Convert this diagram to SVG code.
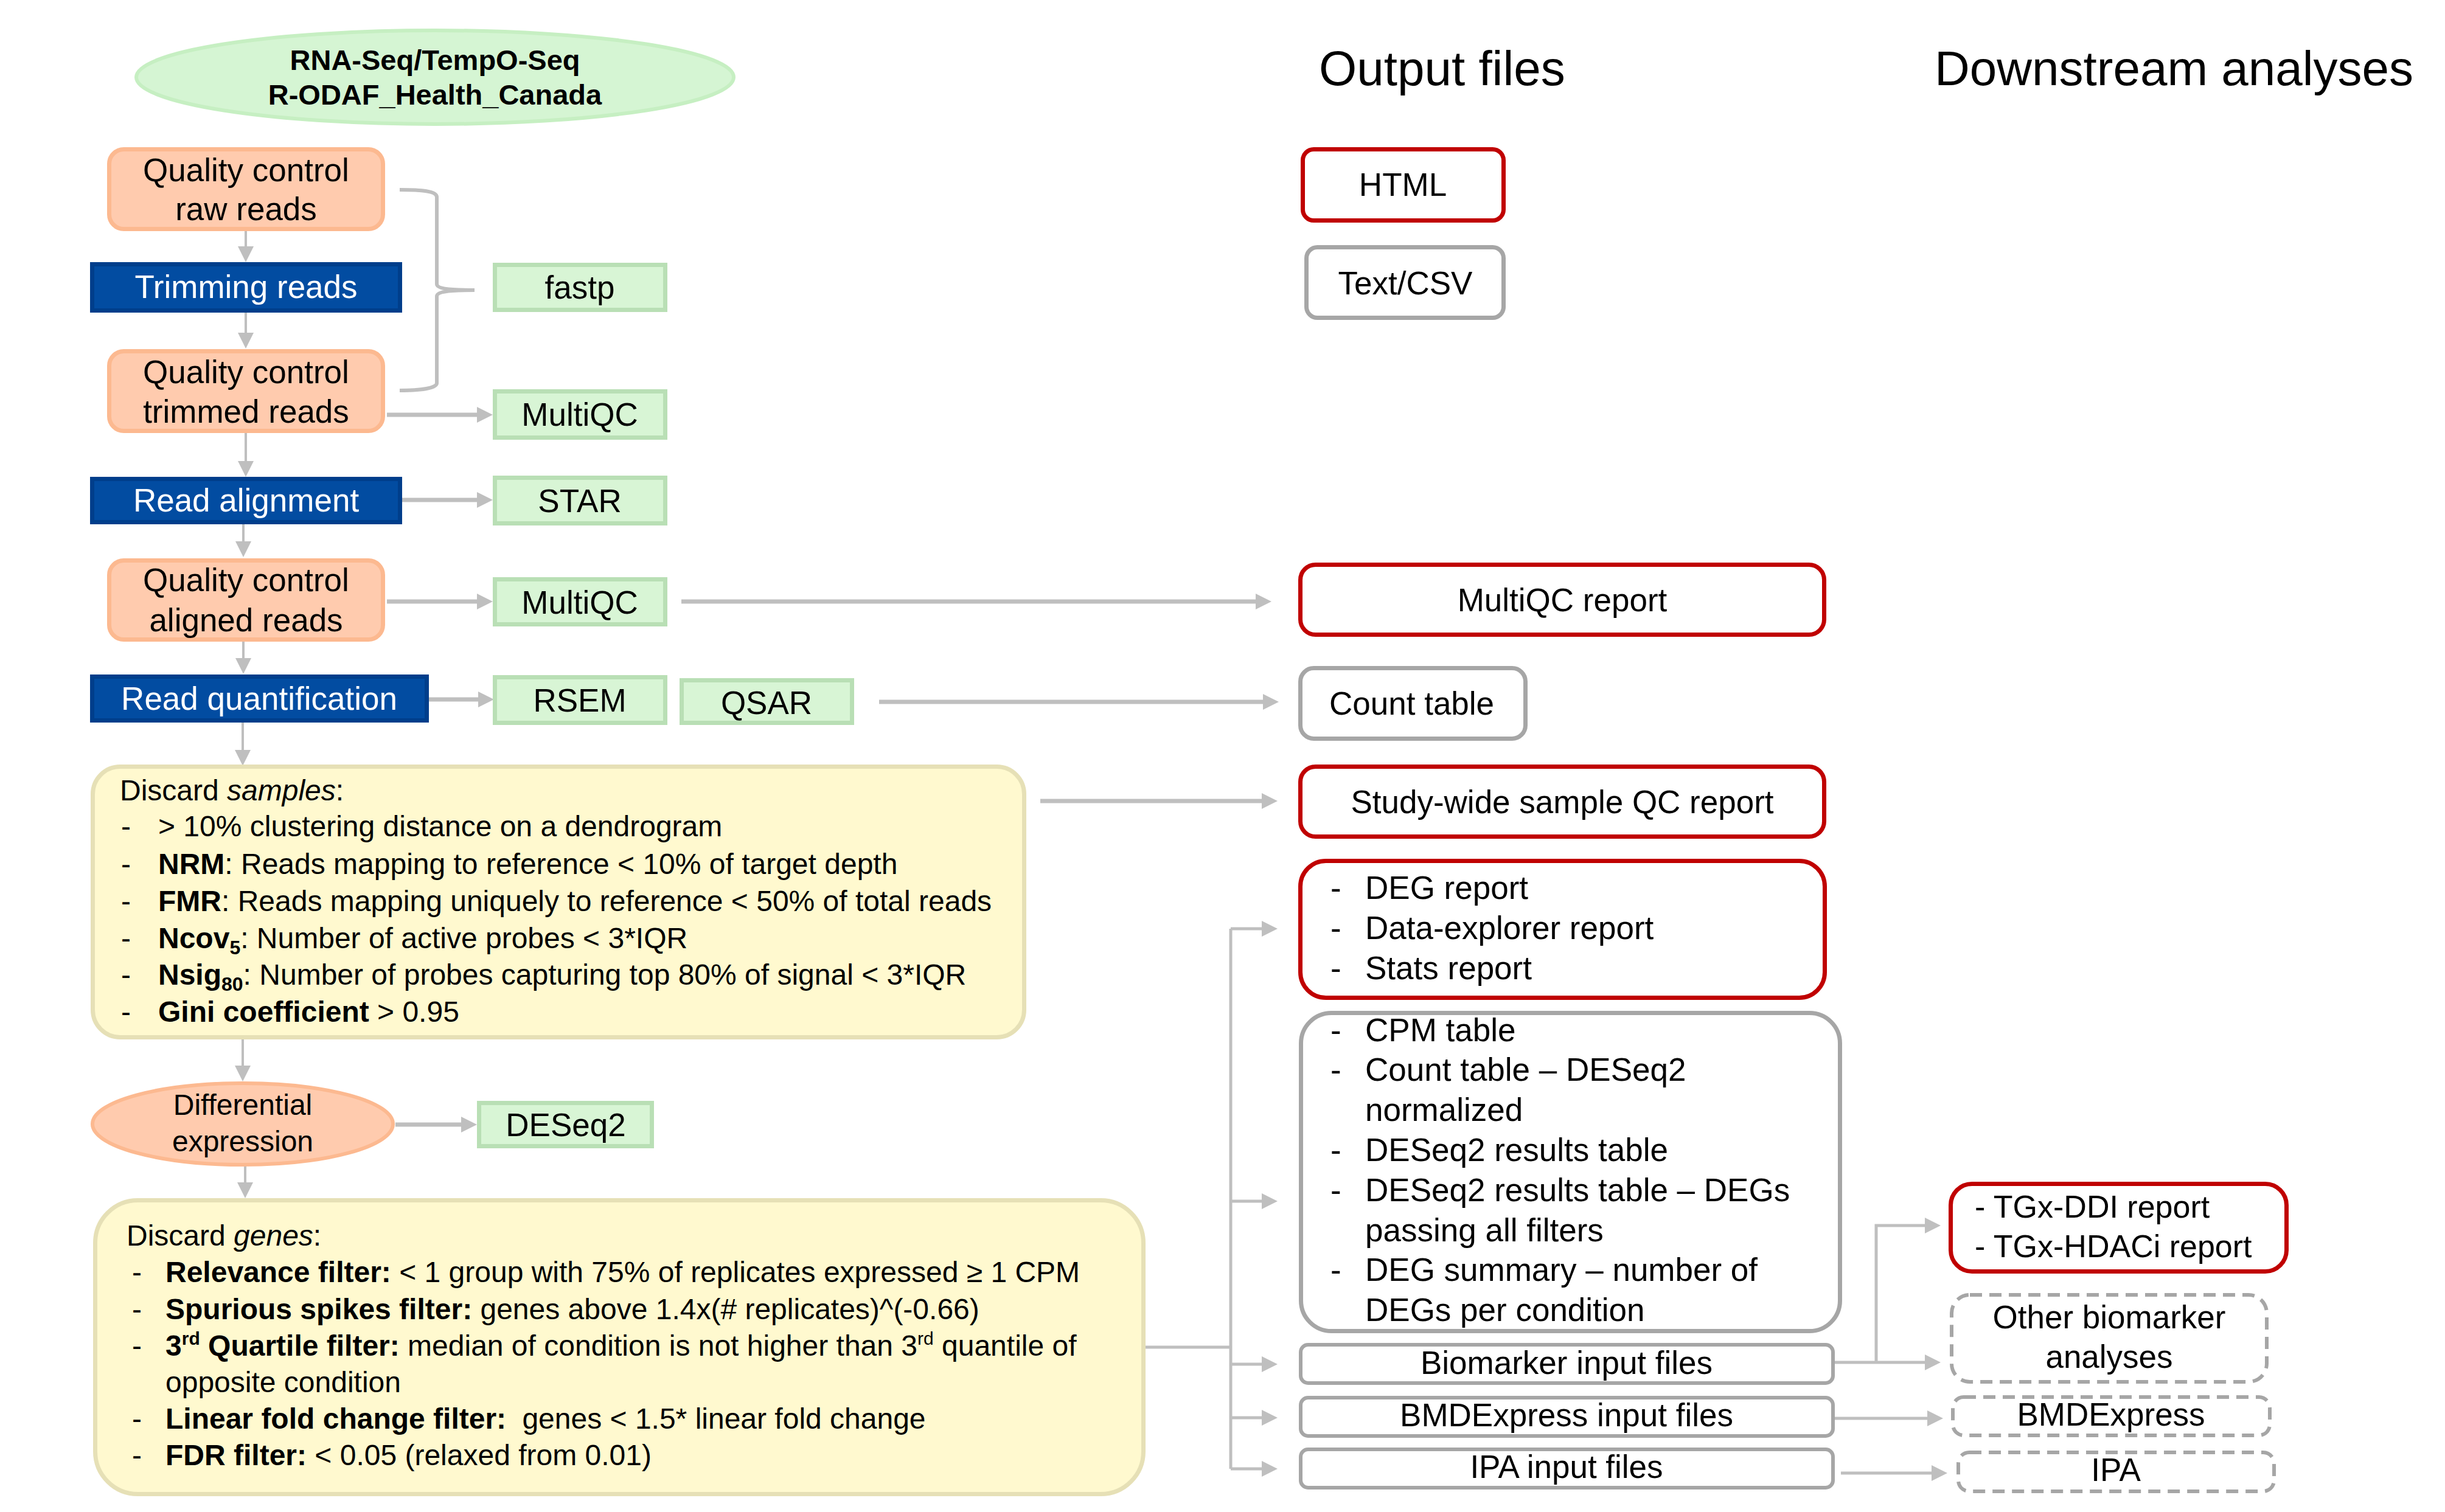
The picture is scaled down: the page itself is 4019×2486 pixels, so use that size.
<svg xmlns="http://www.w3.org/2000/svg" width="4019" height="2486" viewBox="0 0 4019 2486">
<style>
text{font-family:"Liberation Sans",Arial,sans-serif;fill:#000}
.n{font-size:53px}
.s{font-size:48px}
.h{font-size:80px}
.c{text-anchor:middle}
.b{font-weight:bold}
.i{font-style:italic}
.w{fill:#fff}
.peach{fill:#FFCBAE;stroke:#FCB990;stroke-width:7}
.blue{fill:#024CA1;stroke:#003E8B;stroke-width:7}
.green{fill:#D8F5D5;stroke:#B9DFB5;stroke-width:7}
.yellow{fill:#FFF9CF;stroke:#E6E0B6;stroke-width:7}
.red{fill:#fff;stroke:#C00000;stroke-width:7}
.gray{fill:#fff;stroke:#A6A6A6;stroke-width:7}
.dash{fill:#fff;stroke:#A6A6A6;stroke-width:6;stroke-dasharray:20 12}
.ln{fill:none;stroke:#BFBFBF;stroke-width:7}
.thin{stroke-width:4}
.mid{stroke-width:5}
</style>
<defs>
<marker id="ah" viewBox="0 0 26 26" refX="16" refY="13" markerWidth="26" markerHeight="26" markerUnits="userSpaceOnUse" orient="auto"><path d="M0,0L26,13L0,26z" fill="#BFBFBF"/></marker>
</defs>
<rect width="4019" height="2486" fill="#fff"/>

<g id="headers">
<text x="2168" y="140" class="h">Output files</text>
<text x="3180" y="140" class="h">Downstream analyses</text>
</g>

<g id="connectors">
<path class="ln thin" d="M404,380V421" marker-end="url(#ah)"/>
<path class="ln thin" d="M404,514V563" marker-end="url(#ah)"/>
<path class="ln thin" d="M404,712V774" marker-end="url(#ah)"/>
<path class="ln thin" d="M400,862V906" marker-end="url(#ah)"/>
<path class="ln thin" d="M400,1055V1098" marker-end="url(#ah)"/>
<path class="ln thin" d="M399,1188V1249" marker-end="url(#ah)"/>
<path class="ln thin" d="M399,1709V1768" marker-end="url(#ah)"/>
<path class="ln thin" d="M403,1917V1960" marker-end="url(#ah)"/>
<path class="ln" d="M636,682H800" marker-end="url(#ah)"/>
<path class="ln" d="M661,822H800" marker-end="url(#ah)"/>
<path class="ln" d="M636,989H800" marker-end="url(#ah)"/>
<path class="ln" d="M705,1150H802" marker-end="url(#ah)"/>
<path class="ln" d="M1120,989H2080" marker-end="url(#ah)"/>
<path class="ln" d="M1445,1154H2092" marker-end="url(#ah)"/>
<path class="ln" d="M1710,1317H2090" marker-end="url(#ah)"/>
<path class="ln" d="M650,1849H774" marker-end="url(#ah)"/>
<path class="ln thin" style="stroke-width:6" d="M657,312C692,312 718,314 718,324V467C718,474 736,477 780,477C736,477 718,480 718,487V630C718,638 692,642 657,642"/>
<path class="ln mid" d="M1883,2215H2023M2023,1527V2415"/>
<path class="ln mid" d="M2023,1527H2090" marker-end="url(#ah)"/>
<path class="ln mid" d="M2023,1975H2090" marker-end="url(#ah)"/>
<path class="ln mid" d="M2023,2243H2090" marker-end="url(#ah)"/>
<path class="ln mid" d="M2023,2331H2090" marker-end="url(#ah)"/>
<path class="ln mid" d="M2023,2415H2090" marker-end="url(#ah)"/>
<path class="ln mid" d="M3016,2240H3180" marker-end="url(#ah)"/>
<path class="ln mid" d="M3084,2240V2015H3180" marker-end="url(#ah)"/>
<path class="ln mid" d="M3016,2332H3184" marker-end="url(#ah)"/>
<path class="ln mid" d="M3026,2422H3191" marker-end="url(#ah)"/>
</g>

<g id="title">
<ellipse cx="715" cy="127" rx="491" ry="77" fill="#D5F5D3" stroke="#C6EFC2" stroke-width="6"/>
<text x="715" y="115" class="c b" font-size="47">RNA-Seq/TempO-Seq</text>
<text x="715" y="172" class="c b" font-size="47">R-ODAF_Health_Canada</text>
</g>

<g id="qc-raw">
<rect x="179.5" y="245.5" width="450" height="131" rx="24" class="peach"/>
<text x="404.5" y="298" class="n c">Quality control</text>
<text x="404.5" y="362" class="n c">raw reads</text>
</g>
<g id="trimming">
<rect x="151.5" y="434.5" width="506" height="76" class="blue"/>
<text x="404.5" y="490" class="n c w">Trimming reads</text>
</g>
<g id="qc-trimmed">
<rect x="179.5" y="577.5" width="450" height="131" rx="24" class="peach"/>
<text x="404.5" y="630" class="n c">Quality control</text>
<text x="404.5" y="695" class="n c">trimmed reads</text>
</g>
<g id="alignment">
<rect x="151.5" y="787.5" width="506" height="71" class="blue"/>
<text x="404.5" y="841" class="n c w">Read alignment</text>
</g>
<g id="qc-aligned">
<rect x="179.5" y="921.5" width="450" height="130" rx="24" class="peach"/>
<text x="404.5" y="972" class="n c">Quality control</text>
<text x="404.5" y="1038" class="n c">aligned reads</text>
</g>
<g id="quantification">
<rect x="151.5" y="1112.5" width="550" height="72" class="blue"/>
<text x="426" y="1167" class="n c w">Read quantification</text>
</g>

<g id="fastp">
<rect x="813.5" y="435.5" width="280" height="74" class="green"/>
<text x="953" y="491" class="n c">fastp</text>
</g>
<g id="multiqc1">
<rect x="813.5" y="643.5" width="280" height="76" class="green"/>
<text x="953" y="700" class="n c">MultiQC</text>
</g>
<g id="star">
<rect x="813.5" y="785.5" width="280" height="75" class="green"/>
<text x="953" y="842" class="n c">STAR</text>
</g>
<g id="multiqc2">
<rect x="813.5" y="952.5" width="280" height="74" class="green"/>
<text x="953" y="1009" class="n c">MultiQC</text>
</g>
<g id="rsem">
<rect x="813.5" y="1113.5" width="280" height="75" class="green"/>
<text x="953" y="1170" class="n c">RSEM</text>
</g>
<g id="qsar">
<rect x="1120.5" y="1118.5" width="280" height="70" class="green"/>
<text x="1260" y="1174" class="n c">QSAR</text>
</g>

<g id="discard-samples">
<rect x="152.5" y="1260.5" width="1531" height="445" rx="45" class="yellow"/>
<text x="197" y="1316" class="s">Discard <tspan class="i">samples</tspan>:</text>
<text x="199" y="1375" class="s">-</text>
<text x="199" y="1437" class="s">-</text>
<text x="199" y="1498" class="s">-</text>
<text x="199" y="1559" class="s">-</text>
<text x="199" y="1619" class="s">-</text>
<text x="199" y="1680" class="s">-</text>
<text x="260" y="1375" class="s">&gt; 10% clustering distance on a dendrogram</text>
<text x="260" y="1437" class="s"><tspan class="b">NRM</tspan>: Reads mapping to reference &lt; 10% of target depth</text>
<text x="260" y="1498" class="s"><tspan class="b">FMR</tspan>: Reads mapping uniquely to reference &lt; 50% of total reads</text>
<text x="260" y="1559" class="s"><tspan class="b">Ncov</tspan><tspan class="b" dy="10" font-size="32">5</tspan><tspan dy="-10">: Number of active probes &lt; 3*IQR</tspan></text>
<text x="260" y="1619" class="s"><tspan class="b">Nsig</tspan><tspan class="b" dy="10" font-size="32">80</tspan><tspan dy="-10">: Number of probes capturing top 80% of signal &lt; 3*IQR</tspan></text>
<text x="260" y="1680" class="s"><tspan class="b">Gini coefficient</tspan> &gt; 0.95</text>
</g>

<g id="differential">
<ellipse cx="399" cy="1848" rx="247" ry="67" class="peach" style="stroke-width:6"/>
<text x="399" y="1833" class="c" font-size="48">Differential</text>
<text x="399" y="1893" class="c" font-size="48">expression</text>
</g>
<g id="deseq2">
<rect x="787.5" y="1813.5" width="284" height="71" class="green"/>
<text x="930" y="1868" class="n c">DESeq2</text>
</g>

<g id="discard-genes">
<rect x="156.5" y="1973.5" width="1723" height="483" rx="70" class="yellow"/>
<text x="208" y="2048" class="s">Discard <tspan class="i">genes</tspan>:</text>
<text x="217" y="2108" class="s">-</text>
<text x="217" y="2169" class="s">-</text>
<text x="217" y="2229" class="s">-</text>
<text x="217" y="2349" class="s">-</text>
<text x="217" y="2409" class="s">-</text>
<text x="272" y="2108" class="s"><tspan class="b">Relevance filter:</tspan> &lt; 1 group with 75% of replicates expressed ≥ 1 CPM</text>
<text x="272" y="2169" class="s"><tspan class="b">Spurious spikes filter:</tspan> genes above 1.4x(# replicates)^(-0.66)</text>
<text x="272" y="2229" class="s"><tspan class="b">3</tspan><tspan class="b" dy="-18" font-size="30">rd</tspan><tspan class="b" dy="18"> Quartile filter:</tspan> median of condition is not higher than 3<tspan dy="-18" font-size="30">rd</tspan><tspan dy="18"> quantile of</tspan></text>
<text x="272" y="2289" class="s">opposite condition</text>
<text x="272" y="2349" class="s"><tspan class="b">Linear fold change filter:</tspan><tspan dx="13"> genes &lt; 1.5* linear fold change</tspan></text>
<text x="272" y="2409" class="s"><tspan class="b">FDR filter:</tspan> &lt; 0.05 (relaxed from 0.01)</text>
</g>

<g id="html">
<rect x="2141.5" y="245.5" width="330" height="117" rx="18" class="red"/>
<text x="2306" y="322" class="n c">HTML</text>
</g>
<g id="textcsv">
<rect x="2147.5" y="406.5" width="324" height="116" rx="18" class="gray"/>
<text x="2310" y="484" class="n c">Text/CSV</text>
</g>
<g id="multiqc-report">
<rect x="2137.5" y="928.5" width="861" height="115" rx="25" class="red"/>
<text x="2568" y="1005" class="n c">MultiQC report</text>
</g>
<g id="count-table">
<rect x="2137.5" y="1098.5" width="370" height="116" rx="22" class="gray"/>
<text x="2185" y="1175" class="n">Count table</text>
</g>
<g id="study-wide">
<rect x="2137.5" y="1260.5" width="861" height="115" rx="25" class="red"/>
<text x="2568" y="1337" class="n c">Study-wide sample QC report</text>
</g>
<g id="reports">
<rect x="2137.5" y="1415.5" width="862" height="225" rx="42" class="red"/>
<text x="2187" y="1478" class="n">-</text>
<text x="2187" y="1544" class="n">-</text>
<text x="2187" y="1610" class="n">-</text>
<text x="2244" y="1478" class="n">DEG report</text>
<text x="2244" y="1544" class="n">Data-explorer report</text>
<text x="2244" y="1610" class="n">Stats report</text>
</g>
<g id="tables">
<rect x="2138.5" y="1665.5" width="886" height="523" rx="50" class="gray"/>
<text x="2187" y="1712" class="n">-</text>
<text x="2187" y="1777" class="n">-</text>
<text x="2187" y="1909" class="n">-</text>
<text x="2187" y="1975" class="n">-</text>
<text x="2187" y="2106" class="n">-</text>
<text x="2244" y="1712" class="n">CPM table</text>
<text x="2244" y="1777" class="n">Count table – DESeq2</text>
<text x="2244" y="1843" class="n">normalized</text>
<text x="2244" y="1909" class="n">DESeq2 results table</text>
<text x="2244" y="1975" class="n">DESeq2 results table – DEGs</text>
<text x="2244" y="2041" class="n">passing all filters</text>
<text x="2244" y="2106" class="n">DEG summary – number of</text>
<text x="2244" y="2172" class="n">DEGs per condition</text>
</g>
<g id="biomarker-input">
<rect x="2138" y="2211" width="875" height="63" rx="12" class="gray" style="stroke-width:6"/>
<text x="2575" y="2259" class="n c">Biomarker input files</text>
</g>
<g id="bmdexpress-input">
<rect x="2138" y="2298" width="875" height="63" rx="12" class="gray" style="stroke-width:6"/>
<text x="2575" y="2345" class="n c">BMDExpress input files</text>
</g>
<g id="ipa-input">
<rect x="2138" y="2383" width="875" height="63" rx="12" class="gray" style="stroke-width:6"/>
<text x="2575" y="2430" class="n c">IPA input files</text>
</g>

<g id="tgx">
<rect x="3206.5" y="1946.5" width="552" height="144" rx="35" class="red"/>
<text x="3246" y="2002" font-size="52">- TGx-DDI report</text>
<text x="3246" y="2067" font-size="52">- TGx-HDACi report</text>
</g>
<g id="other-biomarker">
<rect x="3208" y="2129" width="518" height="143" rx="30" class="dash"/>
<text x="3467" y="2184" class="n c">Other biomarker</text>
<text x="3467" y="2249" class="n c">analyses</text>
</g>
<g id="bmdexpress">
<rect x="3210" y="2297" width="521" height="63" rx="18" class="dash"/>
<text x="3470" y="2344" class="n c">BMDExpress</text>
</g>
<g id="ipa">
<rect x="3219" y="2388" width="519" height="64" rx="18" class="dash"/>
<text x="3478" y="2435" class="n c">IPA</text>
</g>
</svg>
